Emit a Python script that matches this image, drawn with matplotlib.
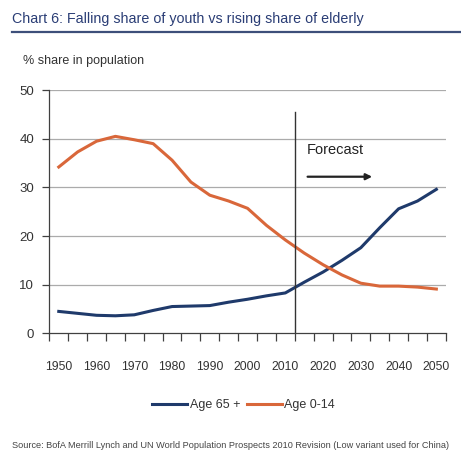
import numpy as np
import matplotlib
matplotlib.use('Agg')
import matplotlib.pyplot as plt

years = [1950, 1955, 1960, 1965, 1970, 1975, 1980, 1985, 1990, 1995, 2000,
         2005, 2010, 2015, 2020, 2025, 2030, 2035, 2040, 2045, 2050]
age65 = [4.5, 4.1, 3.7, 3.6, 3.8, 4.7, 5.5, 5.6, 5.7, 6.4, 7.0,
         7.7, 8.3, 10.5, 12.6, 15.0, 17.6, 21.7, 25.6, 27.2, 29.6]
age014 = [34.2, 37.3, 39.5, 40.5, 39.8, 39.0, 35.6, 31.1, 28.4, 27.2, 25.7,
          22.2, 19.2, 16.5, 14.1, 12.0, 10.3, 9.7, 9.7, 9.5, 9.1]
tick_years = [1950, 1960, 1970, 1980, 1990, 2000, 2010, 2020, 2030, 2040, 2050]
forecast_start = 2012.5

BLUE = '#1f3a6b'
ORANGE = '#d9673a'
AXC = '#404040'
plt.rcParams['font.family'] = ['Liberation Sans', 'DejaVu Sans']

fig = plt.figure(figsize=(4.61, 4.57), dpi=100)
ax = fig.add_axes([0.107, 0.2707, 0.860, 0.532])

ax.plot(years, age65, color=BLUE, lw=2.2, label='Age 65 +')
ax.plot(years, age014, color=ORANGE, lw=2.2, label='Age 0-14')

ax.set_xlim(1947.5, 2052.5)
ax.set_ylim(0, 50)
ax.set_yticks([0, 10, 20, 30, 40, 50])
for v in [10, 20, 30, 40, 50]:
    ax.axhline(v, color='#ababab', lw=0.9, zorder=0)

# category boundary ticks, labels every 10 years
ax.set_xticks(np.arange(1947.5, 2053, 5))
ax.set_xticklabels([])
ax.set_xticks(tick_years, minor=True)
ax.set_xticklabels([str(y) for y in tick_years], minor=True)
ax.tick_params(axis='x', which='major', direction='out', length=6, width=0.9, color=AXC)
ax.tick_params(axis='x', which='minor', length=0, pad=20, labelsize=8.8, labelcolor='#333333')
ax.tick_params(axis='y', direction='out', length=5, width=0.9, color=AXC,
               labelsize=9.5, labelcolor='#333333', pad=6)

for s in ['top', 'right']:
    ax.spines[s].set_visible(False)
for s in ['left', 'bottom']:
    ax.spines[s].set_color(AXC)
    ax.spines[s].set_linewidth(0.9)

# forecast marker
ax.plot([forecast_start, forecast_start], [0, 45.6], color='#333333', lw=1.0)
ax.text(2015.6, 37.7, 'Forecast', fontsize=10.5, color='#222222', va='center', ha='left')
ax.annotate('', xy=(2033.0, 32.2), xytext=(2015.9, 32.2),
            arrowprops=dict(arrowstyle='-|>', color='#222222', lw=1.6,
                            mutation_scale=9, shrinkA=0, shrinkB=0))

ax.legend(loc='center', bbox_to_anchor=(0.49, -0.295), ncol=2, frameon=False,
          fontsize=9, handlelength=2.8, handletextpad=0.2, columnspacing=0.5,
          labelcolor='#333333')

# title and underline
fig.text(0.026, 0.958, 'Chart 6: Falling share of youth vs rising share of elderly',
         fontsize=10.3, color='#2a3d75', va='center', ha='left')
fig.add_artist(plt.Line2D([0.026, 1.0], [0.931, 0.931], color='#3d4f7a', lw=1.6))
fig.text(0.05, 0.866, '% share in population', fontsize=9, color='#333333',
         va='center', ha='left')
fig.text(0.026, 0.026,
         'Source: BofA Merrill Lynch and UN World Population Prospects 2010 Revision (Low variant used for China)',
         fontsize=6.6, color='#444444', va='center', ha='left')

fig.savefig('out.png', dpi=100)
